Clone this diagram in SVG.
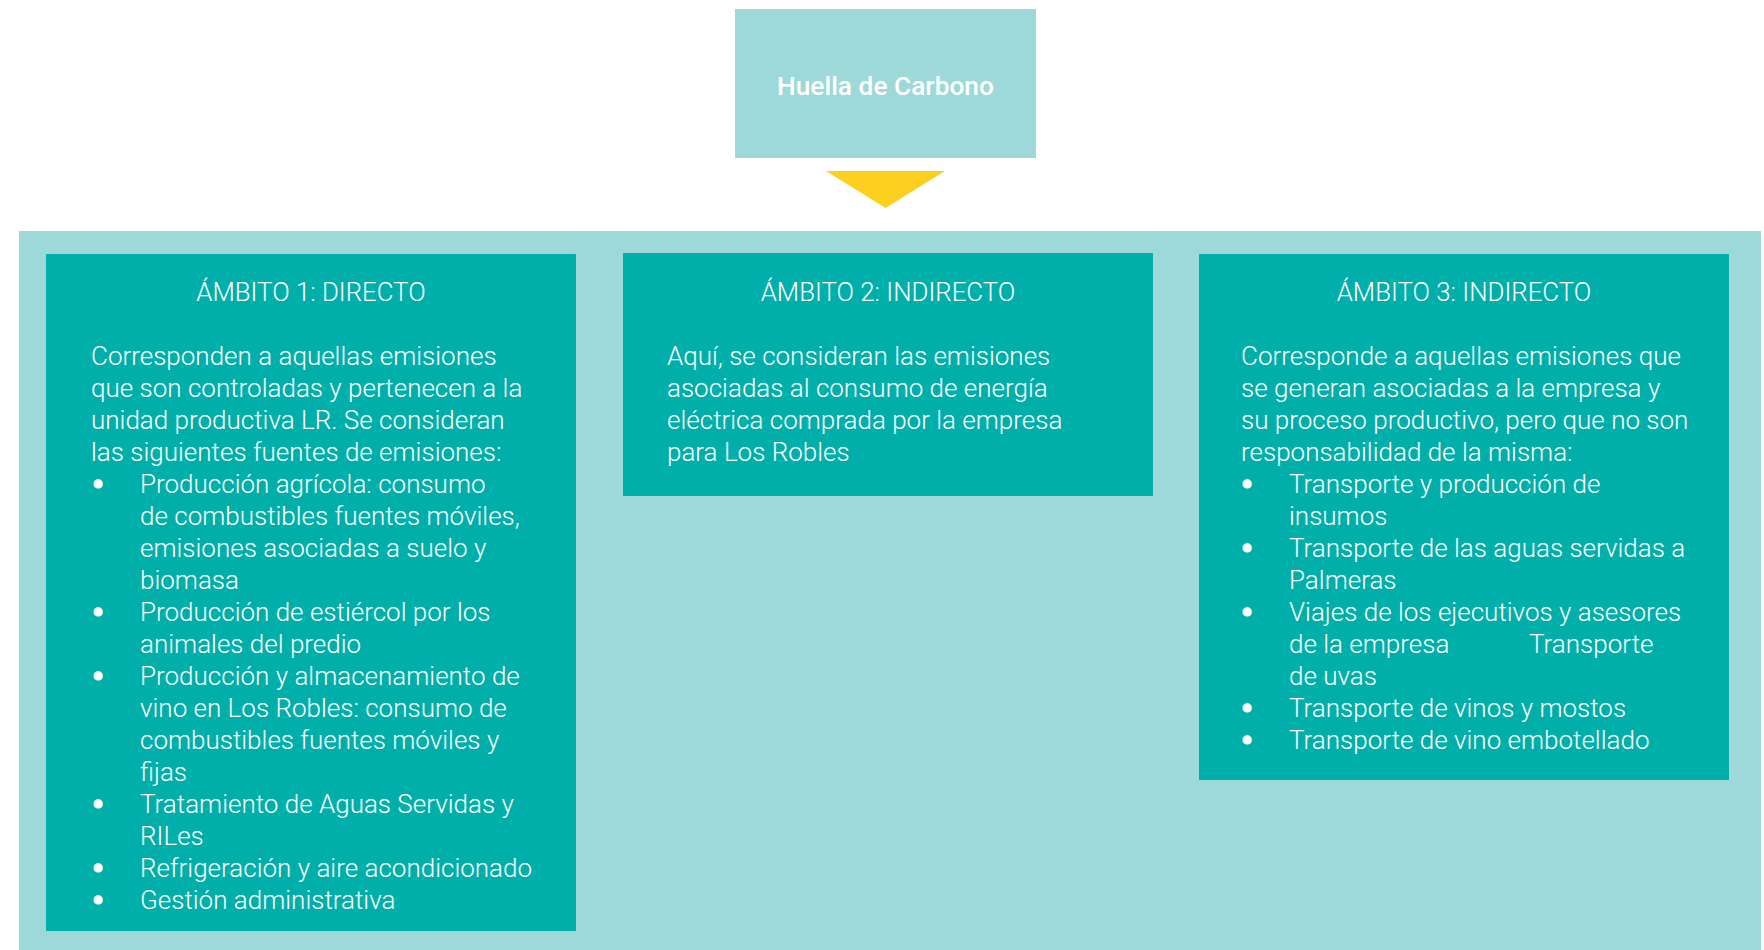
<svg xmlns="http://www.w3.org/2000/svg" width="1764" height="950" viewBox="0 0 1764 950">
<style>
.light{fill:#9DD9D8}
.box{fill:#00AFAA}
.t{font-family:Roboto,"Liberation Sans",sans-serif;fill:#FFFFFF}
.ttl{font-size:25.8px;font-weight:300;text-anchor:middle}
.body{font-size:26px;font-weight:300}
.head{font-size:26.3px;font-weight:500;text-anchor:middle}
.bul{font-family:Roboto,"Liberation Sans",sans-serif;fill:#FFFFFF;stroke:#FFFFFF;stroke-width:3;font-size:30px;text-anchor:middle}
</style>
<rect width="1764" height="950" fill="#FFFFFF"/>
<g id="node-huella">
<rect class="light" x="735" y="9" width="301" height="149"/>
<text class="t head" x="885.5" y="95">Huella de Carbono</text>
</g>
<g id="connectors">
<polygon points="826,171 945,171 885.5,208" fill="#FDCF1E"/>
</g>
<g id="node-ambitos">
<rect class="light" x="19" y="231" width="1742" height="719"/>
</g>
<g id="node-ambito1">
<rect class="box" x="46" y="254" width="530" height="677"/>
<text class="t ttl" x="311" y="301">ÁMBITO 1: DIRECTO</text>
<text class="t body">
<tspan x="91" y="365">Corresponden a aquellas emisiones</tspan>
<tspan x="91" y="397">que son controladas y pertenecen a la</tspan>
<tspan x="91" y="429">unidad productiva LR. Se consideran</tspan>
<tspan x="91" y="461">las siguientes fuentes de emisiones:</tspan>
<tspan x="140" y="493">Producción agrícola: consumo</tspan>
<tspan x="140" y="525">de combustibles fuentes móviles,</tspan>
<tspan x="140" y="557">emisiones asociadas a suelo y</tspan>
<tspan x="140" y="589">biomasa</tspan>
<tspan x="140" y="621">Producción de estiércol por los</tspan>
<tspan x="140" y="653">animales del predio</tspan>
<tspan x="140" y="685">Producción y almacenamiento de</tspan>
<tspan x="140" y="717">vino en Los Robles: consumo de</tspan>
<tspan x="140" y="749">combustibles fuentes móviles y</tspan>
<tspan x="140" y="781">fijas</tspan>
<tspan x="140" y="813">Tratamiento de Aguas Servidas y</tspan>
<tspan x="140" y="845">RILes</tspan>
<tspan x="140" y="877">Refrigeración y aire acondicionado</tspan>
<tspan x="140" y="909">Gestión administrativa</tspan>
</text>
<text class="bul" x="98" y="495">•</text>
<text class="bul" x="98" y="623">•</text>
<text class="bul" x="98" y="687">•</text>
<text class="bul" x="98" y="815">•</text>
<text class="bul" x="98" y="879">•</text>
<text class="bul" x="98" y="911">•</text>
</g>
<g id="node-ambito2">
<rect class="box" x="623" y="253" width="530" height="243"/>
<text class="t ttl" x="888" y="301">ÁMBITO 2: INDIRECTO</text>
<text class="t body">
<tspan x="667" y="365">Aquí, se consideran las emisiones</tspan>
<tspan x="667" y="397">asociadas al consumo de energía</tspan>
<tspan x="667" y="429">eléctrica comprada por la empresa</tspan>
<tspan x="667" y="461">para Los Robles</tspan>
</text>
</g>
<g id="node-ambito3">
<rect class="box" x="1199" y="254" width="530" height="526"/>
<text class="t ttl" x="1464" y="301">ÁMBITO 3: INDIRECTO</text>
<text class="t body">
<tspan x="1241" y="365">Corresponde a aquellas emisiones que</tspan>
<tspan x="1241" y="397">se generan asociadas a la empresa y</tspan>
<tspan x="1241" y="429">su proceso productivo, pero que no son</tspan>
<tspan x="1241" y="461">responsabilidad de la misma:</tspan>
<tspan x="1289" y="493">Transporte y producción de</tspan>
<tspan x="1289" y="525">insumos</tspan>
<tspan x="1289" y="557">Transporte de las aguas servidas a</tspan>
<tspan x="1289" y="589">Palmeras</tspan>
<tspan x="1289" y="621">Viajes de los ejecutivos y asesores</tspan>
<tspan x="1289" y="653">de la empresa</tspan><tspan x="1529" y="653">Transporte</tspan>
<tspan x="1289" y="685">de uvas</tspan>
<tspan x="1289" y="717">Transporte de vinos y mostos</tspan>
<tspan x="1289" y="749">Transporte de vino embotellado</tspan>
</text>
<text class="bul" x="1247" y="495">•</text>
<text class="bul" x="1247" y="559">•</text>
<text class="bul" x="1247" y="623">•</text>
<text class="bul" x="1247" y="719">•</text>
<text class="bul" x="1247" y="751">•</text>
</g>
</svg>
